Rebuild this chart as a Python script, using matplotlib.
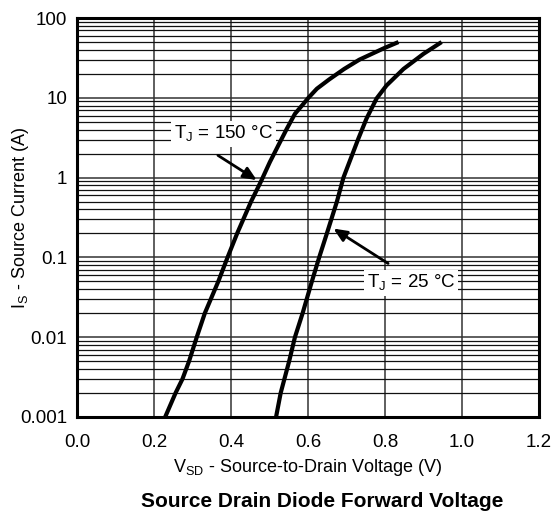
import numpy as np
import matplotlib
matplotlib.use('Agg')
import matplotlib.pyplot as plt
from matplotlib.ticker import LogLocator, FixedLocator, NullFormatter

plt.rcParams['font.family'] = ['Liberation Sans', 'DejaVu Sans']

# V_SD (V), I_S (A)
v_150 = [0.229, 0.256, 0.274, 0.291, 0.311, 0.332, 0.367, 0.391, 0.416, 0.452, 0.478, 0.501, 0.523, 0.545, 0.566, 0.588, 0.601, 0.623, 0.655, 0.694, 0.733, 0.798, 0.835]
i_150 = [0.001, 0.002, 0.003, 0.005, 0.01, 0.02, 0.05, 0.1, 0.2, 0.5, 0.9, 1.57, 2.54, 4.1, 6.3, 8.4, 10.0, 13.0, 17.0, 23.0, 30.0, 42.0, 50.0]

v_25 = [0.517, 0.529, 0.551, 0.566, 0.586, 0.610, 0.629, 0.649, 0.675, 0.692, 0.731, 0.752, 0.778, 0.804, 0.848, 0.900, 0.947]
i_25 = [0.001, 0.002, 0.005, 0.01, 0.02, 0.05, 0.1, 0.2, 0.5, 1.0, 3.1, 5.5, 9.8, 14.3, 23.0, 35.6, 50.0]

x_ticks = [0.0, 0.2, 0.4, 0.6, 0.8, 1.0, 1.2]
y_ticks = [0.001, 0.01, 0.1, 1, 10, 100]
y_labels = ['0.001', '0.01', '0.1', '1', '10', '100']

fig = plt.figure(figsize=(5.52, 5.15), dpi=100)
ax = fig.add_axes([0.1395, 0.1903, 0.8370, 0.7747])

ax.set_yscale('log')
ax.set_xlim(0, 1.2)
ax.set_ylim(0.001, 100)

ax.xaxis.set_major_locator(FixedLocator(x_ticks))
ax.set_xticklabels(['%.1f' % t for t in x_ticks])
ax.yaxis.set_major_locator(FixedLocator(y_ticks))
ax.set_yticklabels(y_labels)
ax.yaxis.set_minor_locator(LogLocator(base=10, subs=np.arange(2, 10)))
ax.yaxis.set_minor_formatter(NullFormatter())

ax.grid(True, which='major', axis='both', color='#333333', lw=1.1)
ax.grid(True, which='minor', axis='y', color='#111111', lw=0.9)
ax.set_axisbelow(True)
ax.tick_params(which='both', length=0, labelsize=13.5)
ax.tick_params(axis='x', pad=12)
ax.tick_params(axis='y', pad=7)

for s in ax.spines.values():
    s.set_linewidth(2.2)

ax.plot(v_150, i_150, color='black', lw=3, solid_capstyle='butt', solid_joinstyle='round', zorder=3)
ax.plot(v_25, i_25, color='black', lw=3, solid_capstyle='butt', solid_joinstyle='round', zorder=3)

box = dict(boxstyle='square,pad=0.15', fc='white', ec='none')
arw = dict(arrowstyle='-|>,head_length=0.8,head_width=0.35', color='black', lw=2, shrinkA=0, shrinkB=0)
ax.text(0.381, 3.55, 'T$_\\mathregular{J}$ = 150 °C', fontsize=13.5, ha='center', va='center',
        bbox=box, zorder=2)
ax.annotate('', xy=(0.467, 0.93), xytext=(0.366, 1.9), arrowprops=arw)
ax.text(0.868, 0.048, 'T$_\\mathregular{J}$ = 25 °C', fontsize=13.5, ha='center', va='center',
        bbox=box, zorder=2)
ax.annotate('', xy=(0.666, 0.23), xytext=(0.808, 0.084), arrowprops=arw)

ax.set_xlabel('V$_\\mathregular{SD}$ - Source-to-Drain Voltage (V)', fontsize=13)
ax.set_ylabel('I$_\\mathregular{S}$ - Source Current (A)', fontsize=13)
ax.xaxis.set_label_coords(0.5, -0.1)
ax.yaxis.set_label_coords(-0.1, 0.5)
fig.text(0.584, 0.027, 'Source Drain Diode Forward Voltage', fontsize=15,
         fontweight='bold', ha='center', va='center')

fig.savefig('out.png', dpi=100)
